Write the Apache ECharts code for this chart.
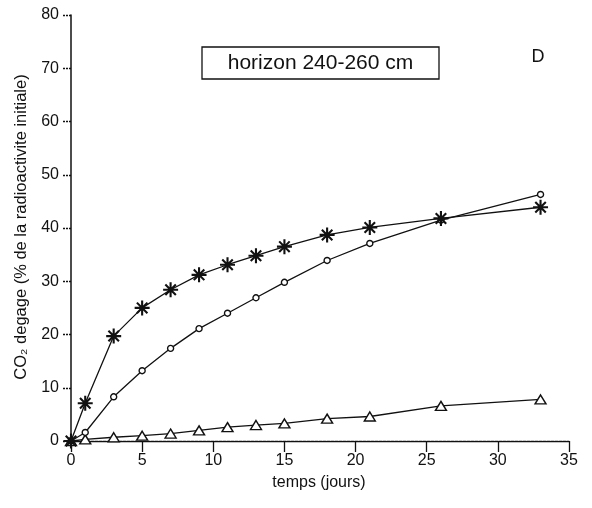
<!DOCTYPE html>
<html><head><meta charset="utf-8">
<script src="https://cdn.jsdelivr.net/npm/echarts@6/dist/echarts.min.js"></script>
<style>html,body{margin:0;padding:0;background:#fff}#c{width:592px;height:508px}</style>
</head><body><div id="c"></div>
<script>
const days = [0, 1, 3, 5, 7, 9, 11, 13, 15, 18, 21, 26, 33];
const starSeries = [0, 7.1, 19.7, 25.0, 28.4, 31.2, 33.1, 34.8, 36.5, 38.7, 40.1, 41.8, 43.9];
const circleSeries = [0, 1.6, 8.3, 13.2, 17.4, 21.1, 24.0, 26.9, 29.8, 33.9, 37.1, 41.5, 46.3];
const triangleSeries = [0, 0.3, 0.7, 1.0, 1.4, 2.0, 2.6, 3.0, 3.3, 4.2, 4.6, 6.6, 7.8];
const xTicks = [0, 5, 10, 15, 20, 25, 30, 35];
const yTicks = [0, 10, 20, 30, 40, 50, 60, 70, 80];
const titleText = 'horizon 240-260 cm';
const panelLetter = 'D';
const xName = 'temps (jours)';
const yName = 'CO\u2082 degage (% de la radioactivite initiale)';

const FONT = '"Liberation Sans", Arial, Helvetica, sans-serif';
const INK = '#111';
const starPath = 'path://M0 43L100 43L100 57L0 57Z M43 0L57 0L57 100L43 100Z M10 19.9L19.9 10L90 80.1L80.1 90Z M19.9 90L10 80.1L80.1 10L90 19.9Z';

function pairs(ys){ return days.map((d,i)=>[d, ys[i]]); }

const chart = echarts.init(document.getElementById('c'), null, {renderer:'canvas'});
chart.setOption({
  backgroundColor: '#fff',
  animation: false,
  grid: {left: 71, right: 23, top: 15, bottom: 67},
  xAxis: {
    type: 'value', min: xTicks[0], max: xTicks[xTicks.length-1], interval: 5,
    axisLine: {show: true, lineStyle: {color: INK, width: 1.4, type: [3, 1]}},
    axisTick: {show: true, length: 11, lineStyle: {color: INK, width: 1.3}},
    axisLabel: {color: INK, fontSize: 16, fontFamily: FONT, margin: 12},
    splitLine: {show: false}
  },
  yAxis: {
    type: 'value', min: yTicks[0], max: yTicks[yTicks.length-1], interval: 10,
    axisLine: {show: true, onZero: false, lineStyle: {color: INK, width: 1.5}},
    axisTick: {show: true, length: 9, lineStyle: {color: INK, width: 1.3, type: [2, 1]}},
    axisLabel: {color: INK, fontSize: 16, fontFamily: FONT, margin: 12},
    splitLine: {show: false}
  },
  series: [
    {type: 'line', data: pairs(triangleSeries), symbol: 'triangle', symbolSize: [11, 9],
     lineStyle: {color: INK, width: 1.3}, itemStyle: {color: '#fff', borderColor: INK, borderWidth: 1.4}, z: 3},
    {type: 'line', data: pairs(circleSeries), symbol: 'circle', symbolSize: 6,
     lineStyle: {color: INK, width: 1.3}, itemStyle: {color: '#fff', borderColor: INK, borderWidth: 1.4}, z: 4},
    {type: 'line', data: pairs(starSeries), symbol: starPath, symbolSize: 15,
     lineStyle: {color: INK, width: 1.3}, itemStyle: {color: INK}, z: 5}
  ],
  graphic: [
    {type: 'rect', shape: {x: 202, y: 47, width: 237, height: 32},
     style: {fill: '#fff', stroke: INK, lineWidth: 1.3}},
    {type: 'text', x: 320.5, y: 63,
     style: {text: titleText, fill: INK, font: '21px ' + FONT, align: 'center', verticalAlign: 'middle'}},
    {type: 'text', x: 538, y: 57,
     style: {text: panelLetter, fill: INK, font: '18px ' + FONT, align: 'center', verticalAlign: 'middle'}},
    {type: 'text', x: 319, y: 483,
     style: {text: xName, fill: INK, font: '16px ' + FONT, align: 'center', verticalAlign: 'middle'}},
    {type: 'text', x: 21, y: 227, rotation: Math.PI/2,
     style: {text: yName, fill: INK, font: '16.5px ' + FONT, align: 'center', verticalAlign: 'middle'}}
  ]
});
</script></body></html>
